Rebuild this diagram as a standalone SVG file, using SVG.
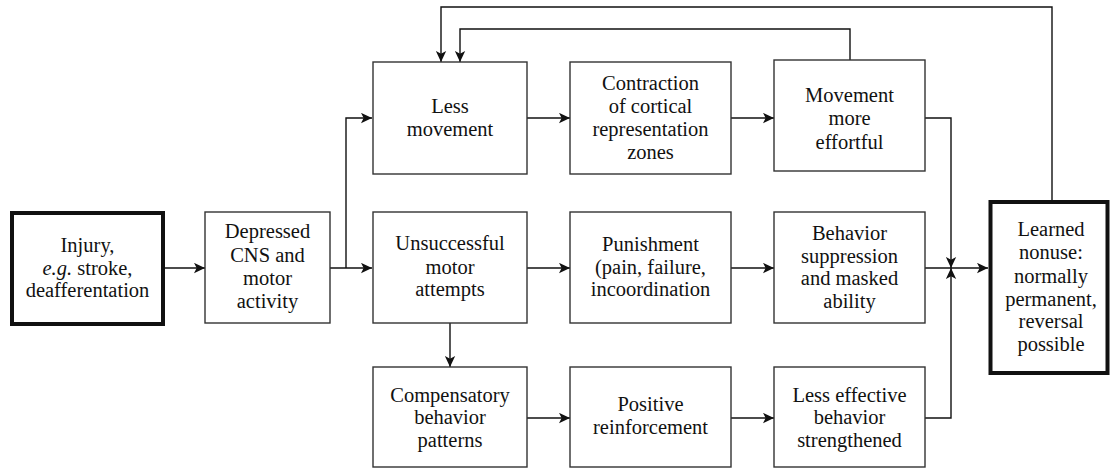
<svg xmlns="http://www.w3.org/2000/svg" width="1110" height="470" viewBox="0 0 1110 470">
<style>
.box{fill:#fff;stroke:#333;stroke-width:1.4}
.thick{fill:#fff;stroke:#111;stroke-width:4}
.t{font-family:"Liberation Serif","Times New Roman",serif;font-size:20.5px;fill:#111;text-anchor:middle}
.c{fill:none;stroke:#111;stroke-width:1.4}
</style>
<defs>
<marker id="ah" viewBox="0 0 10 10" refX="10" refY="5" markerWidth="11" markerHeight="11" markerUnits="userSpaceOnUse" orient="auto">
<path d="M0,0.3 L10,5 L0,9.7 L2.4,5 z" fill="#111"/>
</marker>
</defs>
<rect width="1110" height="470" fill="#fff"/>
<g id="connectors">
<path class="c" d="M165,268 H205" marker-end="url(#ah)"/>
<path class="c" d="M330,268 H372" marker-end="url(#ah)"/>
<path class="c" d="M346,268 V118 H372" marker-end="url(#ah)"/>
<path class="c" d="M527,118 H570" marker-end="url(#ah)"/>
<path class="c" d="M731,118 H774" marker-end="url(#ah)"/>
<path class="c" d="M527,268 H570" marker-end="url(#ah)"/>
<path class="c" d="M731,268 H774" marker-end="url(#ah)"/>
<path class="c" d="M450,323 V367" marker-end="url(#ah)"/>
<path class="c" d="M527,418 H570" marker-end="url(#ah)"/>
<path class="c" d="M731,418 H774" marker-end="url(#ah)"/>
<path class="c" d="M925,118 H951 V268" marker-end="url(#ah)"/>
<path class="c" d="M925,418 H951 V268" marker-end="url(#ah)"/>
<path class="c" d="M925,268 H988" marker-end="url(#ah)"/>
<path class="c" d="M850,60 V29 H460 V62" marker-end="url(#ah)"/>
<path class="c" d="M1052,200 V7 H441 V62" marker-end="url(#ah)"/>
</g>
<g id="injury">
<rect class="thick" x="12" y="213" width="151" height="111"/>
<text class="t" x="87.5" y="252">Injury,</text>
<text class="t" x="87.5" y="275"><tspan font-style="italic">e.g.</tspan> stroke,</text>
<text class="t" x="87.5" y="297">deafferentation</text>
</g>
<g id="depressed">
<rect class="box" x="205" y="212" width="125" height="111"/>
<text class="t" x="267.5" y="238">Depressed</text>
<text class="t" x="267.5" y="261.5">CNS and</text>
<text class="t" x="267.5" y="284.5">motor</text>
<text class="t" x="267.5" y="308">activity</text>
</g>
<g id="less-movement">
<rect class="box" x="373" y="62" width="154" height="112"/>
<text class="t" x="450" y="113">Less</text>
<text class="t" x="450" y="136">movement</text>
</g>
<g id="contraction">
<rect class="box" x="570" y="62" width="161" height="112"/>
<text class="t" x="650.5" y="89.5">Contraction</text>
<text class="t" x="650.5" y="112.5">of cortical</text>
<text class="t" x="650.5" y="136">representation</text>
<text class="t" x="650.5" y="159">zones</text>
</g>
<g id="effortful">
<rect class="box" x="774" y="60" width="151" height="111"/>
<text class="t" x="849.5" y="101.5">Movement</text>
<text class="t" x="849.5" y="125">more</text>
<text class="t" x="849.5" y="149">effortful</text>
</g>
<g id="unsuccessful">
<rect class="box" x="373" y="212" width="154" height="111"/>
<text class="t" x="450" y="250">Unsuccessful</text>
<text class="t" x="450" y="273.5">motor</text>
<text class="t" x="450" y="296">attempts</text>
</g>
<g id="punishment">
<rect class="box" x="570" y="212" width="161" height="111"/>
<text class="t" x="650.5" y="251">Punishment</text>
<text class="t" x="650.5" y="274">(pain, failure,</text>
<text class="t" x="650.5" y="296">incoordination</text>
</g>
<g id="suppression">
<rect class="box" x="774" y="212" width="151" height="111"/>
<text class="t" x="849.5" y="240">Behavior</text>
<text class="t" x="849.5" y="263">suppression</text>
<text class="t" x="849.5" y="285">and masked</text>
<text class="t" x="849.5" y="307.5">ability</text>
</g>
<g id="compensatory">
<rect class="box" x="373" y="367" width="154" height="100"/>
<text class="t" x="450" y="401.5">Compensatory</text>
<text class="t" x="450" y="424">behavior</text>
<text class="t" x="450" y="446.5">patterns</text>
</g>
<g id="positive">
<rect class="box" x="570" y="367" width="161" height="100"/>
<text class="t" x="650.5" y="411">Positive</text>
<text class="t" x="650.5" y="434">reinforcement</text>
</g>
<g id="less-effective">
<rect class="box" x="774" y="367" width="151" height="100"/>
<text class="t" x="849.5" y="401.5">Less effective</text>
<text class="t" x="849.5" y="424">behavior</text>
<text class="t" x="849.5" y="446.5">strengthened</text>
</g>
<g id="learned-nonuse">
<rect class="thick" x="990.5" y="202" width="117" height="171"/>
<text class="t" x="1051" y="236">Learned</text>
<text class="t" x="1051" y="259">nonuse:</text>
<text class="t" x="1051" y="282.5">normally</text>
<text class="t" x="1051" y="305.5">permanent,</text>
<text class="t" x="1051" y="328">reversal</text>
<text class="t" x="1051" y="351">possible</text>
</g>
</svg>
